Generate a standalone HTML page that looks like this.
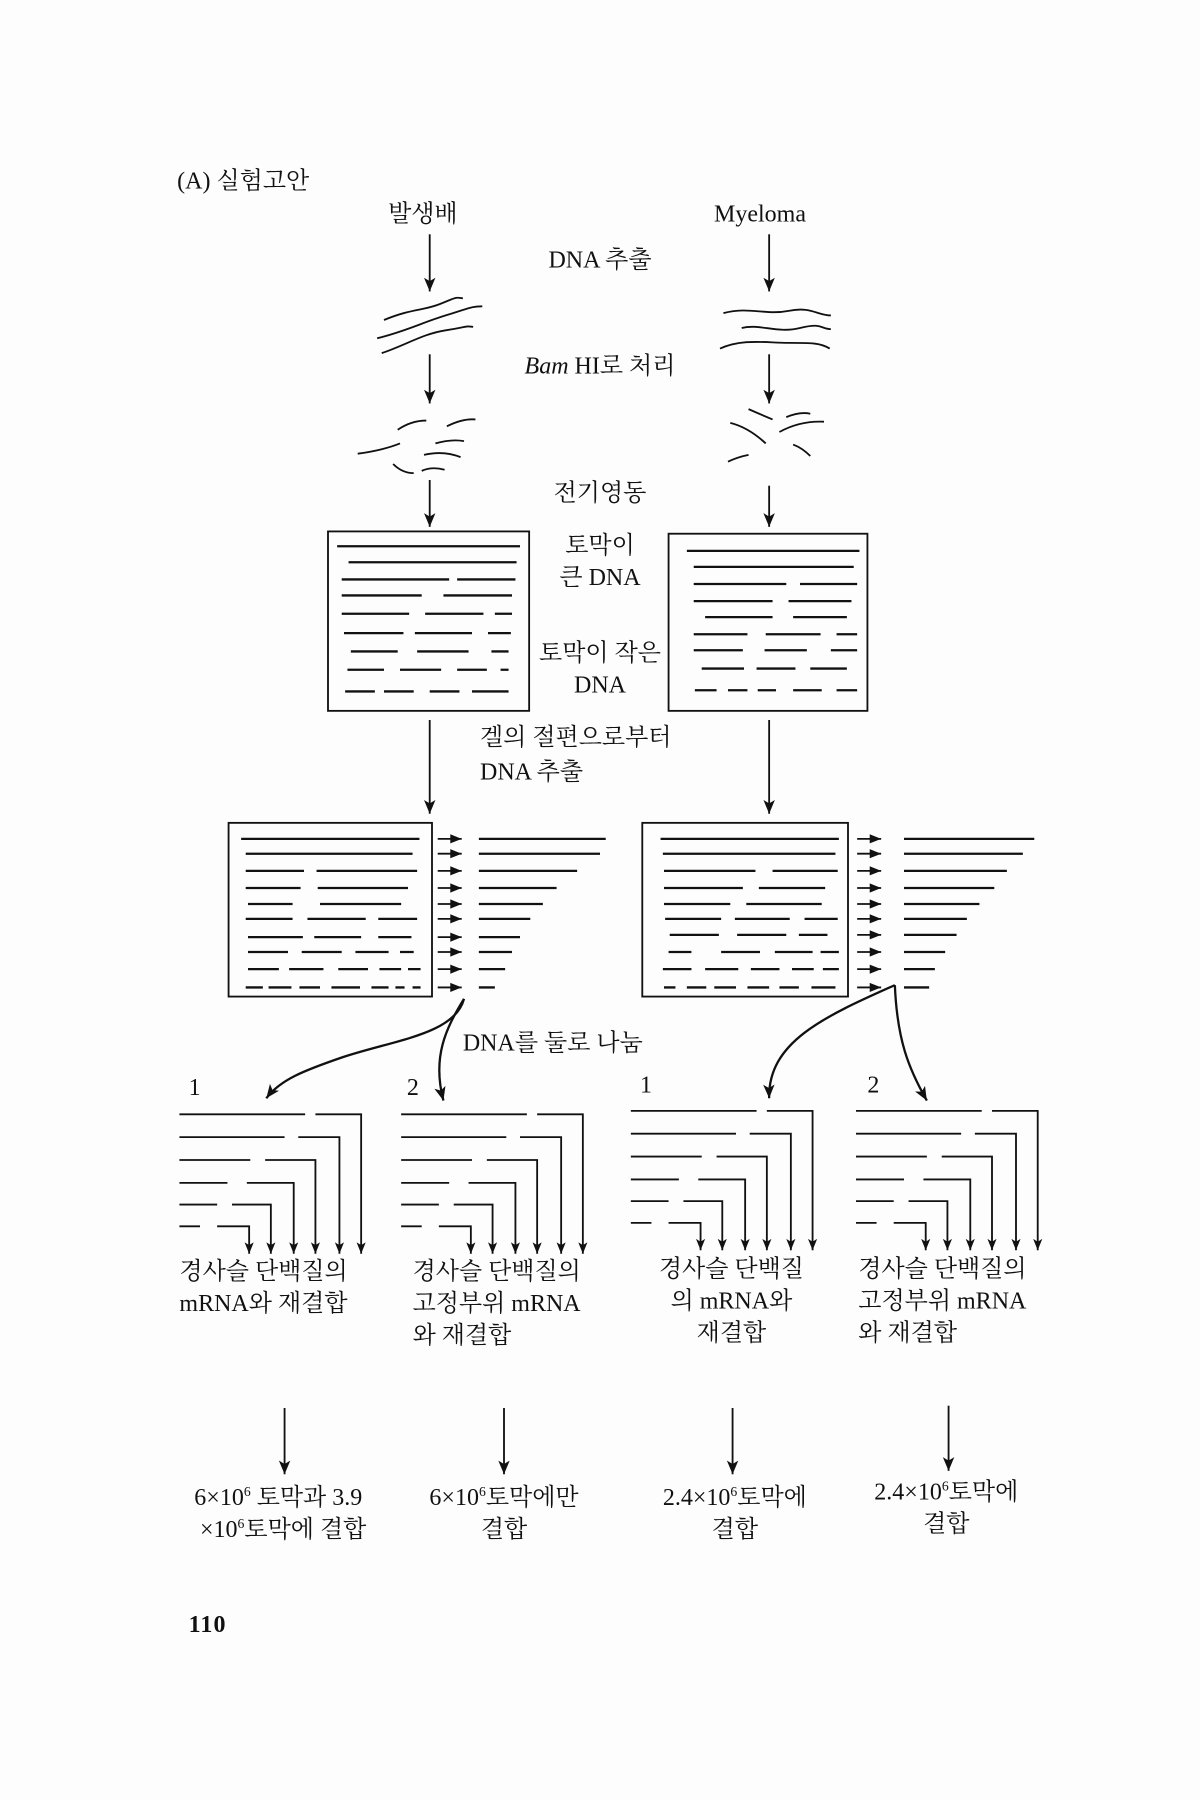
<!DOCTYPE html>
<html><head><meta charset="utf-8"><style>
html,body{margin:0;padding:0;background:#fdfdfd;}
svg{display:block;}
text{font-family:"Liberation Serif","Noto Serif CJK KR","NanumGothic",serif;fill:#111;font-size:21px;}
</style></head><body>
<svg width="1200" height="1800" viewBox="0 0 1050 1575" xmlns="http://www.w3.org/2000/svg">
<defs>
<marker id="a" markerWidth="13" markerHeight="10" refX="12" refY="5" orient="auto" markerUnits="userSpaceOnUse"><path d="M0,0 L12,5 L0,10 L3,5 Z" fill="#111"/></marker>
<marker id="v" markerWidth="11" markerHeight="8" refX="10" refY="4" orient="auto" markerUnits="userSpaceOnUse"><path d="M0,0 L10,4 L0,8 L2.5,4 Z" fill="#111"/></marker>
</defs>
<rect width="1050" height="1575" fill="#fdfdfd"/>
<g stroke="#111" fill="none" stroke-width="1.6">
<path d="M376,205 V255" marker-end="url(#a)"/>
<path d="M673,205 V255" marker-end="url(#a)"/>
<path d="M376,310 V353" marker-end="url(#a)"/>
<path d="M673,310 V353" marker-end="url(#a)"/>
<path d="M376,420 V461" marker-end="url(#a)"/>
<path d="M673,425 V461" marker-end="url(#a)"/>
<path d="M376,630 V712" marker-end="url(#a)"/>
<path d="M673,630 V712" marker-end="url(#a)"/>
<path d="M336,280 C360,270 370,272 385,266 S398,260 405,261"/>
<path d="M330,296 C355,290 370,282 390,276 S412,268 422,268"/>
<path d="M334,309 C355,302 370,292 390,289 S406,285 414,286"/>
<path d="M633,274 C655,268 670,276 690,272 S715,276 727,276"/>
<path d="M649,287 C665,283 680,292 700,287 S718,288 727,288"/>
<path d="M630,305 C650,296 670,300 690,300 S718,300 726,305"/>
<path d="M348,376 Q360,368 373,368"/><path d="M391,373 Q405,366 416,367"/>
<path d="M313,397 Q335,394 350,388"/><path d="M381,388 Q395,384 406,386"/>
<path d="M344,406 Q352,414 362,414"/><path d="M371,398 Q388,394 403,400"/>
<path d="M369,412 Q378,408 389,411"/>
<path d="M655,358 Q664,362 676,367"/><path d="M639,370 Q655,374 670,388"/>
<path d="M688,365 Q700,360 709,362"/><path d="M682,378 Q700,368 721,369"/>
<path d="M694,389 Q702,392 709,399"/><path d="M637,404 Q645,400 655,398"/>
<rect x="287" y="465" width="176" height="157"/>
<rect x="585" y="467" width="174" height="155"/>
<rect x="200" y="720" width="178" height="152"/>
<rect x="562" y="720" width="180" height="152"/>
</g>
<g stroke="#111" fill="none" stroke-width="2">
<path d="M295,478 L455,478"/>
<path d="M305,492 L452,492"/>
<path d="M299,507 L393,507 M400,507 L451,507"/>
<path d="M299,521 L369,521 M388,521 L448,521"/>
<path d="M299,537 L358,537 M372,537 L423,537 M433,537 L448,537"/>
<path d="M301,554 L353,554 M363,554 L413,554 M427,554 L447,554"/>
<path d="M307,570 L348,570 M365,570 L410,570 M430,570 L445,570"/>
<path d="M304,586 L336,586 M350,586 L386,586 M400,586 L426,586 M438,586 L445,586"/>
<path d="M302,605 L328,605 M336,605 L362,605 M376,605 L402,605 M413,605 L445,605"/>
<path d="M601,482 L752,482"/>
<path d="M607,496 L747,496"/>
<path d="M607,511 L688,511 M700,511 L750,511"/>
<path d="M607,526 L676,526 M690,526 L745,526"/>
<path d="M617,540 L676,540 M694,540 L741,540"/>
<path d="M607,555 L654,555 M670,555 L718,555 M732,555 L750,555"/>
<path d="M607,569 L650,569 M669,569 L706,569 M727,569 L750,569"/>
<path d="M614,585 L651,585 M662,585 L696,585 M709,585 L741,585"/>
<path d="M608,604 L627,604 M637,604 L654,604 M663,604 L679,604 M694,604 L719,604 M732,604 L750,604"/>
<path d="M211,734 L367,734"/>
<path d="M215,747 L361,747"/>
<path d="M215,762 L266,762 M277,762 L365,762"/>
<path d="M215,777 L263,777 M278,777 L357,777"/>
<path d="M217,791 L256,791 M280,791 L351,791"/>
<path d="M215,804 L256,804 M269,804 L320,804 M331,804 L365,804"/>
<path d="M217,820 L265,820 M275,820 L316,820 M331,820 L360,820"/>
<path d="M217,833 L252,833 M264,833 L299,833 M311,833 L340,833 M350,833 L362,833"/>
<path d="M217,848 L244,848 M253,848 L283,848 M296,848 L322,848 M332,848 L351,848 M357,848 L368,848"/>
<path d="M215,864 L230,864 M235,864 L255,864 M262,864 L280,864 M290,864 L315,864 M325,864 L340,864 M346,864 L354,864 M361,864 L368,864"/>
<path d="M578,734 L734,734"/>
<path d="M580,747 L731,747"/>
<path d="M581,762 L661,762 M676,762 L733,762"/>
<path d="M581,777 L650,777 M664,777 L722,777"/>
<path d="M581,791 L639,791 M653,791 L719,791"/>
<path d="M582,804 L631,804 M643,804 L691,804 M704,804 L733,804"/>
<path d="M586,818 L629,818 M645,818 L688,818 M699,818 L724,818"/>
<path d="M585,833 L605,833 M631,833 L665,833 M678,833 L711,833 M718,833 L734,833"/>
<path d="M580,848 L605,848 M617,848 L646,848 M657,848 L682,848 M693,848 L712,848 M720,848 L734,848"/>
<path d="M581,864 L591,864 M601,864 L618,864 M625,864 L644,864 M654,864 L673,864 M682,864 L699,864 M710,864 L731,864"/>
<path d="M419,734 L530,734 M419,747 L525,747 M419,762 L505,762 M419,777 L487,777 M419,791 L475,791 M419,804 L464,804 M419,820 L455,820 M419,833 L448,833 M419,848 L442,848 M419,864 L433,864"/>
<path d="M791,734 L905,734 M791,747 L895,747 M791,762 L881,762 M791,777 L870,777 M791,791 L857,791 M791,804 L846,804 M791,818 L837,818 M791,833 L827,833 M791,848 L818,848 M791,864 L813,864"/>
</g>
<g stroke="#111" fill="none" stroke-width="1.6">
<path d="M383,734 H404 M383,747 H404 M383,762 H404 M383,777 H404 M383,791 H404 M383,804 H404 M383,820 H404 M383,833 H404 M383,848 H404 M383,864 H404"/>
<path d="M750,734 H771 M750,747 H771 M750,762 H771 M750,777 H771 M750,791 H771 M750,804 H771 M750,818 H771 M750,833 H771 M750,848 H771 M750,864 H771"/>
</g>
<g fill="#111">
<path d="M394,730 L404,734 L394,738 Z M394,743 L404,747 L394,751 Z M394,758 L404,762 L394,766 Z M394,773 L404,777 L394,781 Z M394,787 L404,791 L394,795 Z M394,800 L404,804 L394,808 Z M394,816 L404,820 L394,824 Z M394,829 L404,833 L394,837 Z M394,844 L404,848 L394,852 Z M394,860 L404,864 L394,868 Z"/>
<path d="M761,730 L771,734 L761,738 Z M761,743 L771,747 L761,751 Z M761,758 L771,762 L761,766 Z M761,773 L771,777 L761,781 Z M761,787 L771,791 L761,795 Z M761,800 L771,804 L761,808 Z M761,814 L771,818 L761,822 Z M761,829 L771,833 L761,837 Z M761,844 L771,848 L761,852 Z M761,860 L771,864 L761,868 Z"/>
</g>
<g stroke="#111" fill="none" stroke-width="2">
<path d="M406,874 C398,905 345,910 300,925 C265,937 245,945 233,961" marker-end="url(#a)"/>
<path d="M406,874 C390,900 378,925 388,963" marker-end="url(#a)"/>
<path d="M783,862 C720,890 672,912 673,961" marker-end="url(#a)"/>
<path d="M783,862 C785,910 795,935 811,963" marker-end="url(#a)"/>
</g>
<g id="grp" stroke="#111" fill="none" stroke-width="1.6">
<path d="M157,975 L267,975 M276,975 L316,975 L316,1097" marker-end="url(#v)"/>
<path d="M157,995 L249,995 M261,995 L297,995 L297,1097" marker-end="url(#v)"/>
<path d="M157,1015 L219,1015 M232,1015 L276,1015 L276,1097" marker-end="url(#v)"/>
<path d="M157,1035 L199,1035 M216,1035 L257,1035 L257,1097" marker-end="url(#v)"/>
<path d="M157,1054 L190,1054 M203,1054 L237,1054 L237,1097" marker-end="url(#v)"/>
<path d="M157,1073 L175,1073 M190,1073 L218,1073 L218,1097" marker-end="url(#v)"/>
</g>
<use href="#grp" transform="translate(194,0)"/>
<use href="#grp" transform="translate(395,-3)"/>
<use href="#grp" transform="translate(592,-3)"/>
<g stroke="#111" fill="none" stroke-width="1.6">
<path d="M249,1232 V1290" marker-end="url(#a)"/>
<path d="M441,1232 V1290" marker-end="url(#a)"/>
<path d="M641,1232 V1290" marker-end="url(#a)"/>
<path d="M830,1230 V1287" marker-end="url(#a)"/>
</g>
<text x="155" y="165">(A) 실험고안</text>
<text x="370" y="194" text-anchor="middle">발생배</text>
<text x="665" y="194" text-anchor="middle">Myeloma</text>
<text x="525" y="234" text-anchor="middle">DNA 추출</text>
<text x="525" y="327" text-anchor="middle"><tspan font-style="italic">Bam</tspan> HI로 처리</text>
<text x="525" y="438" text-anchor="middle">전기영동</text>
<text x="525" y="484" text-anchor="middle">토막이</text>
<text x="525" y="512" text-anchor="middle">큰 DNA</text>
<text x="525" y="578" text-anchor="middle">토막이 작은</text>
<text x="525" y="606" text-anchor="middle">DNA</text>
<text x="420" y="652">겔의 절편으로부터</text>
<text x="420" y="682">DNA 추출</text>
<text x="405" y="919">DNA를 둘로 나눔</text>
<text x="165" y="958" font-size="17">1</text>
<text x="356" y="958" font-size="17">2</text>
<text x="560" y="956" font-size="17">1</text>
<text x="759" y="956" font-size="17">2</text>
<text x="157" y="1119">경사슬 단백질의</text>
<text x="157" y="1147">mRNA와 재결합</text>
<text x="361" y="1119">경사슬 단백질의</text>
<text x="361" y="1147">고정부위 mRNA</text>
<text x="361" y="1175">와 재결합</text>
<text x="640" y="1117" text-anchor="middle">경사슬 단백질</text>
<text x="640" y="1145" text-anchor="middle">의 mRNA와</text>
<text x="640" y="1173" text-anchor="middle">재결합</text>
<text x="751" y="1117">경사슬 단백질의</text>
<text x="751" y="1145">고정부위 mRNA</text>
<text x="751" y="1173">와 재결합</text>
<text x="170" y="1317" font-size="19">6×10<tspan font-size="12" dy="-8">6</tspan><tspan dy="8"> 토막과 3.9</tspan></text>
<text x="175" y="1345" font-size="19">×10<tspan font-size="12" dy="-8">6</tspan><tspan dy="8">토막에 결합</tspan></text>
<text x="441" y="1317" font-size="19" text-anchor="middle">6×10<tspan font-size="12" dy="-8">6</tspan><tspan dy="8">토막에만</tspan></text>
<text x="441" y="1345" font-size="19" text-anchor="middle">결합</text>
<text x="643" y="1317" font-size="19" text-anchor="middle">2.4×10<tspan font-size="12" dy="-8">6</tspan><tspan dy="8">토막에</tspan></text>
<text x="643" y="1345" font-size="19" text-anchor="middle">결합</text>
<text x="828" y="1312" font-size="19" text-anchor="middle">2.4×10<tspan font-size="12" dy="-8">6</tspan><tspan dy="8">토막에</tspan></text>
<text x="828" y="1340" font-size="19" text-anchor="middle">결합</text>
<text x="165" y="1428" font-size="15" font-weight="bold" letter-spacing="1">110</text>
</svg>
</body></html>
